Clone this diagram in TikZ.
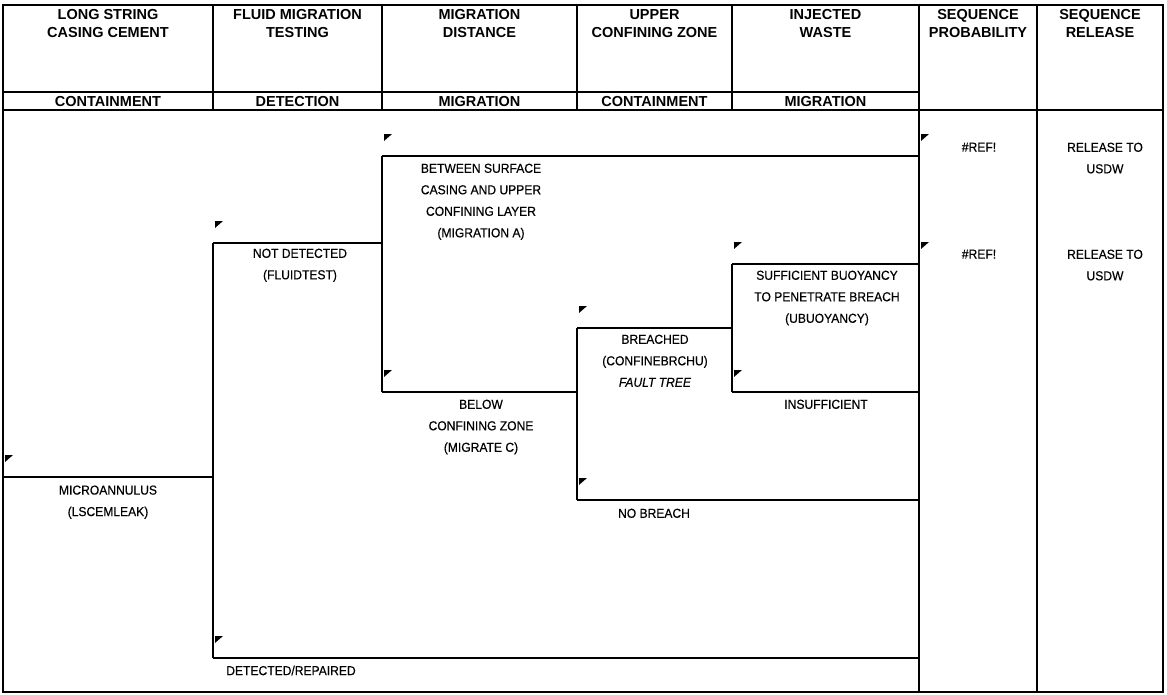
\documentclass[tikz,border=0pt]{standalone}
\usepackage{fontspec}
\setmainfont{Liberation Sans}
\newfontfamily\labfont[FakeStretch=0.93,FakeBold=0.4]{Liberation Sans}
\newcommand\brmark[2]{\fill (#1+2,#2-22) -- ++(8,0) -- ++(-8,7) -- cycle;}
\begin{document}
\begin{tikzpicture}[x=1pt,y=-1pt,
  frame/.style={line width=1.4pt},
  branch/.style={line width=1.6pt},
  head/.style={font=\fontsize{14.5}{18}\selectfont\bfseries, align=center, anchor=north, inner sep=0pt},
  sub/.style={font=\fontsize{14.5}{18}\selectfont\bfseries, anchor=center, inner sep=0pt},
  lab/.style={font=\labfont\fontsize{13}{21.5}\selectfont, align=center, anchor=north, inner sep=0pt}]
\useasboundingbox (0,0) rectangle (1167,694);
% frame and table
\draw[frame] (3,5) rectangle (1163,692);
\draw[frame] (3,92) -- (919,92);
\draw[frame] (3,110) -- (1163,110);
\foreach \xx in {213,382,577,732} \draw[frame] (\xx,5) -- (\xx,110);
\draw[frame] (919,5) -- (919,692);
\draw[frame] (1037,5) -- (1037,692);
% headers
\node[head] (h1) at (108,9.5) {LONG STRING\\CASING CEMENT};
\node[head] (h2) at (297.5,9.5) {FLUID MIGRATION\\TESTING};
\node[head] (h3) at (479.5,9.5) {MIGRATION\\DISTANCE};
\node[head] (h4) at (654.5,9.5) {UPPER\\CONFINING ZONE};
\node[head] (h5) at (825.5,9.5) {INJECTED\\WASTE};
\node[head] (h6) at (978,9.5) {SEQUENCE\\PROBABILITY};
\node[head] (h7) at (1100,9.5) {SEQUENCE\\RELEASE};
\node[sub] (s1) at (108,101.5) {CONTAINMENT};
\node[sub] (s2) at (297.5,101.5) {DETECTION};
\node[sub] (s3) at (479.5,101.5) {MIGRATION};
\node[sub] (s4) at (654.5,101.5) {CONTAINMENT};
\node[sub] (s5) at (825.5,101.5) {MIGRATION};
% tree points
\coordinate (r0) at (3,477);
\coordinate (r1) at (213,477);
\coordinate (fA) at (213,243);
\coordinate (fB) at (213,658);
\coordinate (mJ) at (382,243);
\coordinate (mA) at (382,156);
\coordinate (mB) at (382,392);
\coordinate (cJ) at (577,392);
\coordinate (cA) at (577,328);
\coordinate (cB) at (577,500);
\coordinate (uJ) at (732,328);
\coordinate (uA) at (732,264);
\coordinate (uB) at (732,392);
\coordinate (e1) at (919,156);
\coordinate (e2) at (919,264);
\coordinate (e3) at (919,392);
\coordinate (e4) at (919,500);
\coordinate (e5) at (919,658);
\draw[branch] (r0) -- (r1);
\draw[branch] (fA) -- (fB);
\draw[branch] (fA) -- (mJ);
\draw[branch] (mA) -- (mB);
\draw[branch] (mA) -- (e1);
\draw[branch] (mB) -- (cJ);
\draw[branch] (cA) -- (cB);
\draw[branch] (cA) -- (uJ);
\draw[branch] (uA) -- (uB);
\draw[branch] (uA) -- (e2);
\draw[branch] (uB) -- (e3);
\draw[branch] (cB) -- (e4);
\draw[branch] (fB) -- (e5);
% branch marks
\brmark{3}{477}
\brmark{213}{243}
\brmark{213}{658}
\brmark{382}{156}
\brmark{382}{392}
\brmark{577}{328}
\brmark{577}{500}
\brmark{732}{264}
\brmark{732}{392}
\brmark{919}{156}
\brmark{919}{264}
% labels
\node[lab] (l1) at (108,485.3) {MICROANNULUS\\(LSCEMLEAK)};
\node[lab] (l2) at (300,248.5) {NOT DETECTED\\(FLUIDTEST)};
\node[lab] (l3) at (481,163.5) {BETWEEN SURFACE\\CASING AND UPPER\\CONFINING LAYER\\(MIGRATION A)};
\node[lab] (l4) at (481,399.5) {BELOW\\CONFINING ZONE\\(MIGRATE C)};
\node[lab] (l5) at (655,334.5) {BREACHED\\(CONFINEBRCHU)\\\textit{FAULT TREE}};
\node[lab] (l6) at (654,508.5) {NO BREACH};
\node[lab] (l7) at (827,270.5) {SUFFICIENT BUOYANCY\\TO PENETRATE BREACH\\(UBUOYANCY)};
\node[lab] (l8) at (826,399.5) {INSUFFICIENT};
\node[lab] (l9) at (291,665.5) {DETECTED/REPAIRED};
\node[lab] (p1) at (979,142.5) {\#REF!};
\node[lab] (p2) at (979,249.5) {\#REF!};
\node[lab] (q1) at (1105,142.5) {RELEASE TO\\USDW};
\node[lab] (q2) at (1105,249.5) {RELEASE TO\\USDW};
\end{tikzpicture}
\end{document}
